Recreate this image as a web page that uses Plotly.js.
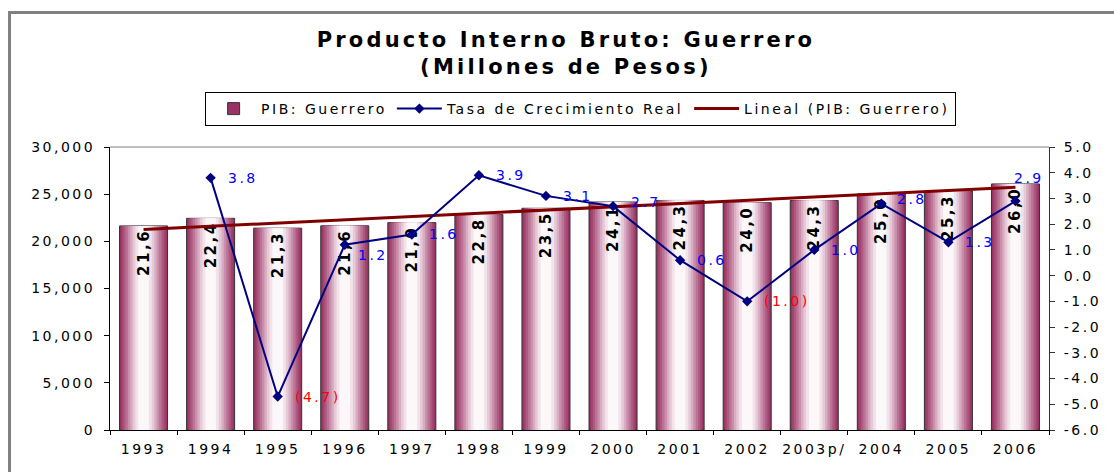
<!DOCTYPE html>
<html>
<head>
<meta charset="utf-8">
<script src="https://cdn.plot.ly/plotly-3.0.1.min.js"></script>
<style>
  html, body { margin: 0; padding: 0; background: #ffffff; }
  #chart { width: 1114px; height: 472px; }
  text { letter-spacing: 2.5px; }
  .gtitle { letter-spacing: 3.2px !important; }
</style>
</head>
<body>
<div id="chart"></div>
<script>
// ---- data ----
const years = ['1993', '1994', '1995', '1996', '1997', '1998', '1999', '2000', '2001', '2002', '2003p/', '2004', '2005', '2006'];
const pib = [21635, 22440, 21395, 21645, 21985, 22855, 23505, 24170, 24335, 24095, 24325, 25030, 25335, 26085];
const pibLabels = ['21,6', '22,4', '21,3', '21,6', '21,9', '22,8', '23,5', '24,1', '24,3', '24,0', '24,3', '25,0', '25,3', '26,0'];
const tasa = [null, 3.8, -4.7, 1.2, 1.6, 3.9, 3.1, 2.7, 0.6, -1.0, 1.0, 2.8, 1.3, 2.9];
const trendYears = ['1993', '2006'];
const trendPib = [21250, 25730];
const yTickVals = [0, 5000, 10000, 15000, 20000, 25000, 30000];
const y2TickVals = [-6, -5, -4, -3, -2, -1, 0, 1, 2, 3, 4, 5];
const y2TickLabels = ['-6.0', '-5.0', '-4.0', '-3.0', '-2.0', '-1.0', '0.0', '1.0', '2.0', '3.0', '4.0', '5.0'];

// ---- styling ----
const FONT = 'DejaVu Sans, Arial, sans-serif';
const BAR_W = 0.716;
// cylinder-like shading: layered bars from the edge towards the centre
const shadeWidths = [1, 0.92, 0.84, 0.75, 0.65, 0.55, 0.45, 0.34, 0.22];
const shadeColors = ['#993366', '#a3466f', '#ae5a80', '#bb7395', '#c98eaa', '#d8acc2', '#e6c9d7', '#f2e3ea', '#fcf8fa'];

const traces = [];
shadeWidths.forEach((f, i) => {
  traces.push({
    type: 'bar', x: years, y: pib, yaxis: 'y',
    width: BAR_W * f,
    name: 'PIB: Guerrero',
    showlegend: i === 0,
    legendrank: 1,
    marker: {
      color: shadeColors[i],
      line: { width: i === 0 ? 1 : 0, color: '#333333' }
    },
    hoverinfo: 'skip'
  });
});
// transparent bar carrying the rotated value labels
traces.push({
  type: 'bar', x: years, y: pib, yaxis: 'y', width: BAR_W,
  showlegend: false,
  marker: { color: 'rgba(0,0,0,0)', line: { width: 0 } },
  text: pibLabels, textposition: 'inside', insidetextanchor: 'end',
  textangle: -90, constraintext: 'none',
  insidetextfont: { family: FONT, size: 15, color: '#000000', weight: 'bold' },
  hoverinfo: 'skip'
});
traces.push({
  type: 'scatter', mode: 'lines+markers', x: years, y: tasa, yaxis: 'y2',
  name: 'Tasa de Crecimiento Real', legendrank: 2,
  connectgaps: false,
  line: { color: '#000080', width: 2 },
  marker: { symbol: 'diamond', size: 8, color: '#000080' },
  hoverinfo: 'skip'
});
traces.push({
  type: 'scatter', mode: 'lines', x: trendYears, y: trendPib, yaxis: 'y',
  name: 'Lineal (PIB: Guerrero)', legendrank: 3,
  line: { color: '#800000', width: 3 },
  hoverinfo: 'skip'
});

// growth-rate labels (x given as category index)
const labelShift = { 3: [11, -10], 7: [16, 4], 11: [14, 5], 13: [-3, 23] };
const annotations = [];
tasa.forEach((v, i) => {
  if (v === null) return;
  const txt = v < 0 ? '(' + Math.abs(v).toFixed(1) + ')' : v.toFixed(1);
  const s = labelShift[i] || [15, 0];
  annotations.push({
    x: i, y: v, xref: 'x', yref: 'y2',
    text: txt, showarrow: false,
    xanchor: 'left', yanchor: 'middle',
    xshift: s[0], yshift: s[1],
    font: { family: FONT, size: 14, color: v < 0 ? '#ff0000' : '#0000ff' }
  });
});

const layout = {
  width: 1114, height: 472,
  margin: { l: 110, r: 65, t: 147, b: 42, pad: 0 },
  paper_bgcolor: '#ffffff', plot_bgcolor: '#ffffff',
  barmode: 'overlay',
  hovermode: false,
  font: { family: FONT, size: 14, color: '#000000' },
  title: {
    text: 'Producto Interno Bruto: Guerrero<br>(Millones de Pesos)',
    font: { family: FONT, size: 21, color: '#000000', weight: 'bold' },
    xref: 'container', x: 0.508, xanchor: 'center',
    yref: 'container', y: 0.901, yanchor: 'top'
  },
  xaxis: {
    type: 'category', range: [-0.5, 13.5],
    showline: true, linecolor: '#000000', linewidth: 1,
    ticks: 'outside', tickson: 'boundaries', ticklen: 4, tickcolor: '#000000',
    tickangle: 0, ticklabelstandoff: 6,
    showgrid: false, zeroline: false, automargin: false,
    tickfont: { family: FONT, size: 14, color: '#000000' }
  },
  yaxis: {
    range: [0, 30000], tickvals: yTickVals, tickformat: ',d',
    showline: true, linecolor: '#000000', linewidth: 1,
    ticks: 'outside', ticklen: 5, tickcolor: '#000000',
    ticklabelstandoff: 6,
    showgrid: false, zeroline: false, automargin: false,
    tickfont: { family: FONT, size: 14, color: '#000000' }
  },
  yaxis2: {
    overlaying: 'y', side: 'right', range: [-6, 5],
    tickvals: y2TickVals, ticktext: y2TickLabels,
    showline: true, linecolor: '#333333', linewidth: 1,
    ticks: 'outside', ticklen: 5, tickcolor: '#333333',
    ticklabelstandoff: 6,
    showgrid: false, zeroline: false, automargin: false,
    tickfont: { family: FONT, size: 14, color: '#000000' }
  },
  legend: {
    orientation: 'h', x: 0.1013, xanchor: 'left', y: 1.1943, yanchor: 'top',
    bgcolor: '#ffffff', bordercolor: '#000000', borderwidth: 1,
    font: { family: FONT, size: 14, color: '#000000' },
    itemwidth: 45,
    traceorder: 'normal'
  },
  annotations: annotations,
  shapes: [
    { type: 'line', xref: 'paper', yref: 'paper', x0: 0, x1: 1, y0: 1, y1: 1,
      line: { color: '#808080', width: 1 } },
    { type: 'rect', xref: 'paper', yref: 'paper', x0: -0.107, x1: 1.12, y0: -0.25, y1: 1.4753,
      line: { color: '#808080', width: 3 }, fillcolor: 'rgba(0,0,0,0)' }
  ]
};

Plotly.newPlot('chart', traces, layout, { displayModeBar: false, staticPlot: true });
</script>
</body>
</html>
